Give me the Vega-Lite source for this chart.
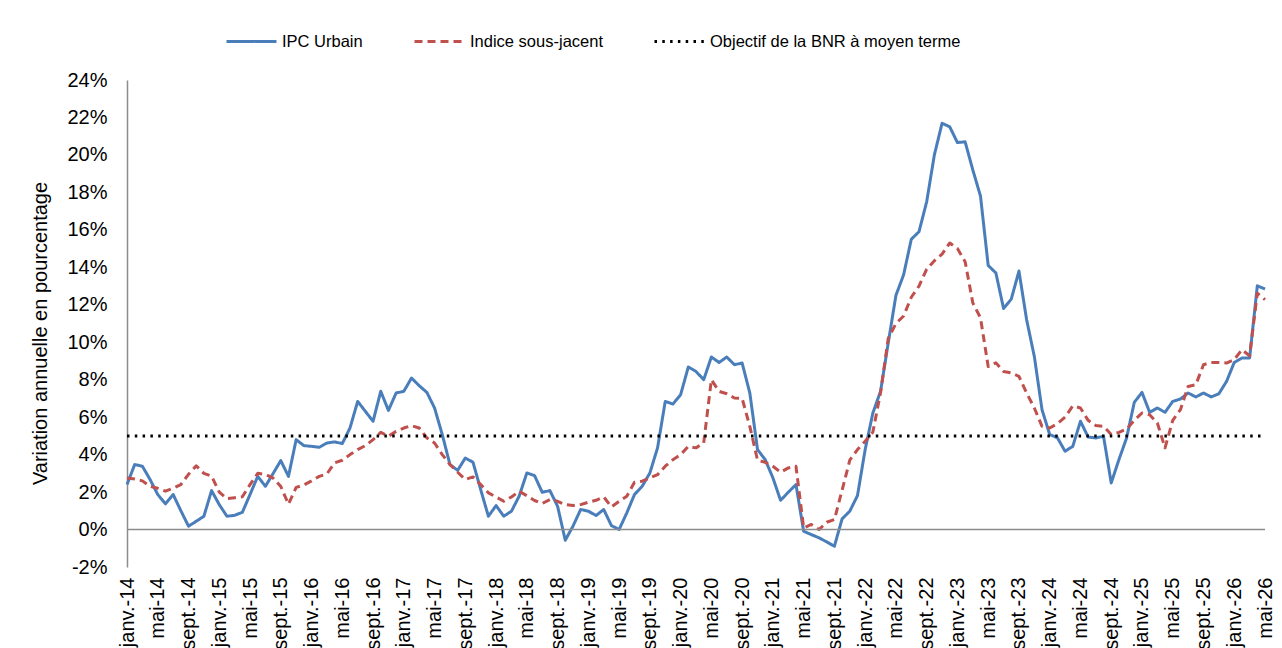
{
  "$schema": "https://vega.github.io/schema/vega-lite/v6.json",
  "width": 1138,
  "height": 487,
  "autosize": {"type": "none"},
  "padding": {"left": 127, "top": 80, "right": 17, "bottom": 81},
  "background": "white",
  "config": {
    "font": "Liberation Sans",
    "view": {"stroke": null},
    "axis": {"labelColor": "#000000", "titleColor": "#000000", "grid": false, "labelOverlap": false},
    "axisY": {"labelOverlap": false},
    "axisQuantitative": {"labelOverlap": false}
  },
  "data": {"values": [
    {"m":"janv.-14","ipc":2.4,"sj":2.75,"obj":5},
    {"m":"févr.-14","ipc":3.47,"sj":2.7,"obj":5},
    {"m":"mars-14","ipc":3.38,"sj":2.6,"obj":5},
    {"m":"avr.-14","ipc":2.67,"sj":2.3,"obj":5},
    {"m":"mai-14","ipc":1.87,"sj":2.2,"obj":5},
    {"m":"juin-14","ipc":1.37,"sj":2.05,"obj":5},
    {"m":"juil.-14","ipc":1.87,"sj":2.2,"obj":5},
    {"m":"août-14","ipc":1.01,"sj":2.4,"obj":5},
    {"m":"sept.-14","ipc":0.18,"sj":2.95,"obj":5},
    {"m":"oct.-14","ipc":0.44,"sj":3.4,"obj":5},
    {"m":"nov.-14","ipc":0.71,"sj":3.0,"obj":5},
    {"m":"déc.-14","ipc":2.08,"sj":2.85,"obj":5},
    {"m":"janv.-15","ipc":1.33,"sj":2.0,"obj":5},
    {"m":"févr.-15","ipc":0.71,"sj":1.65,"obj":5},
    {"m":"mars-15","ipc":0.76,"sj":1.7,"obj":5},
    {"m":"avr.-15","ipc":0.92,"sj":1.75,"obj":5},
    {"m":"mai-15","ipc":1.87,"sj":2.4,"obj":5},
    {"m":"juin-15","ipc":2.84,"sj":3.0,"obj":5},
    {"m":"juil.-15","ipc":2.31,"sj":2.95,"obj":5},
    {"m":"août-15","ipc":2.99,"sj":2.75,"obj":5},
    {"m":"sept.-15","ipc":3.68,"sj":2.3,"obj":5},
    {"m":"oct.-15","ipc":2.84,"sj":1.35,"obj":5},
    {"m":"nov.-15","ipc":4.8,"sj":2.25,"obj":5},
    {"m":"déc.-15","ipc":4.48,"sj":2.38,"obj":5},
    {"m":"janv.-16","ipc":4.44,"sj":2.6,"obj":5},
    {"m":"févr.-16","ipc":4.39,"sj":2.84,"obj":5},
    {"m":"mars-16","ipc":4.62,"sj":2.97,"obj":5},
    {"m":"avr.-16","ipc":4.68,"sj":3.56,"obj":5},
    {"m":"mai-16","ipc":4.59,"sj":3.7,"obj":5},
    {"m":"juin-16","ipc":5.42,"sj":4.0,"obj":5},
    {"m":"juil.-16","ipc":6.84,"sj":4.27,"obj":5},
    {"m":"août-16","ipc":6.31,"sj":4.48,"obj":5},
    {"m":"sept.-16","ipc":5.78,"sj":4.8,"obj":5},
    {"m":"oct.-16","ipc":7.38,"sj":5.19,"obj":5},
    {"m":"nov.-16","ipc":6.36,"sj":4.98,"obj":5},
    {"m":"déc.-16","ipc":7.29,"sj":5.24,"obj":5},
    {"m":"janv.-17","ipc":7.38,"sj":5.42,"obj":5},
    {"m":"févr.-17","ipc":8.09,"sj":5.55,"obj":5},
    {"m":"mars-17","ipc":7.68,"sj":5.42,"obj":5},
    {"m":"avr.-17","ipc":7.32,"sj":4.89,"obj":5},
    {"m":"mai-17","ipc":6.49,"sj":4.62,"obj":5},
    {"m":"juin-17","ipc":5.07,"sj":4.0,"obj":5},
    {"m":"juil.-17","ipc":3.47,"sj":3.47,"obj":5},
    {"m":"août-17","ipc":3.16,"sj":3.06,"obj":5},
    {"m":"sept.-17","ipc":3.82,"sj":2.67,"obj":5},
    {"m":"oct.-17","ipc":3.59,"sj":2.81,"obj":5},
    {"m":"nov.-17","ipc":2.13,"sj":2.4,"obj":5},
    {"m":"déc.-17","ipc":0.71,"sj":1.96,"obj":5},
    {"m":"janv.-18","ipc":1.28,"sj":1.74,"obj":5},
    {"m":"févr.-18","ipc":0.71,"sj":1.51,"obj":5},
    {"m":"mars-18","ipc":0.98,"sj":1.74,"obj":5},
    {"m":"avr.-18","ipc":1.78,"sj":2.04,"obj":5},
    {"m":"mai-18","ipc":3.02,"sj":1.81,"obj":5},
    {"m":"juin-18","ipc":2.88,"sj":1.55,"obj":5},
    {"m":"juil.-18","ipc":1.99,"sj":1.39,"obj":5},
    {"m":"août-18","ipc":2.08,"sj":1.6,"obj":5},
    {"m":"sept.-18","ipc":1.24,"sj":1.51,"obj":5},
    {"m":"oct.-18","ipc":-0.57,"sj":1.33,"obj":5},
    {"m":"nov.-18","ipc":0.18,"sj":1.28,"obj":5},
    {"m":"déc.-18","ipc":1.07,"sj":1.33,"obj":5},
    {"m":"janv.-19","ipc":0.98,"sj":1.46,"obj":5},
    {"m":"févr.-19","ipc":0.75,"sj":1.56,"obj":5},
    {"m":"mars-19","ipc":1.07,"sj":1.74,"obj":5},
    {"m":"avr.-19","ipc":0.21,"sj":1.21,"obj":5},
    {"m":"mai-19","ipc":0.0,"sj":1.51,"obj":5},
    {"m":"juin-19","ipc":0.89,"sj":1.78,"obj":5},
    {"m":"juil.-19","ipc":1.87,"sj":2.52,"obj":5},
    {"m":"août-19","ipc":2.31,"sj":2.58,"obj":5},
    {"m":"sept.-19","ipc":3.02,"sj":2.76,"obj":5},
    {"m":"oct.-19","ipc":4.36,"sj":2.93,"obj":5},
    {"m":"nov.-19","ipc":6.84,"sj":3.38,"obj":5},
    {"m":"déc.-19","ipc":6.7,"sj":3.73,"obj":5},
    {"m":"janv.-20","ipc":7.2,"sj":4.0,"obj":5},
    {"m":"févr.-20","ipc":8.68,"sj":4.44,"obj":5},
    {"m":"mars-20","ipc":8.44,"sj":4.36,"obj":5},
    {"m":"avr.-20","ipc":8.0,"sj":4.62,"obj":5},
    {"m":"mai-20","ipc":9.21,"sj":8.0,"obj":5},
    {"m":"juin-20","ipc":8.92,"sj":7.38,"obj":5},
    {"m":"juil.-20","ipc":9.21,"sj":7.25,"obj":5},
    {"m":"août-20","ipc":8.8,"sj":7.02,"obj":5},
    {"m":"sept.-20","ipc":8.89,"sj":7.0,"obj":5},
    {"m":"oct.-20","ipc":7.29,"sj":5.51,"obj":5},
    {"m":"nov.-20","ipc":4.27,"sj":3.7,"obj":5},
    {"m":"déc.-20","ipc":3.73,"sj":3.59,"obj":5},
    {"m":"janv.-21","ipc":2.76,"sj":3.38,"obj":5},
    {"m":"févr.-21","ipc":1.56,"sj":3.06,"obj":5},
    {"m":"mars-21","ipc":1.99,"sj":3.29,"obj":5},
    {"m":"avr.-21","ipc":2.4,"sj":3.38,"obj":5},
    {"m":"mai-21","ipc":-0.09,"sj":0.09,"obj":5},
    {"m":"juin-21","ipc":-0.27,"sj":0.27,"obj":5},
    {"m":"juil.-21","ipc":-0.44,"sj":0.0,"obj":5},
    {"m":"août-21","ipc":-0.66,"sj":0.39,"obj":5},
    {"m":"sept.-21","ipc":-0.89,"sj":0.53,"obj":5},
    {"m":"oct.-21","ipc":0.57,"sj":2.1,"obj":5},
    {"m":"nov.-21","ipc":0.98,"sj":3.7,"obj":5},
    {"m":"déc.-21","ipc":1.81,"sj":4.27,"obj":5},
    {"m":"janv.-22","ipc":4.27,"sj":4.71,"obj":5},
    {"m":"févr.-22","ipc":6.22,"sj":5.2,"obj":5},
    {"m":"mars-22","ipc":7.38,"sj":7.3,"obj":5},
    {"m":"avr.-22","ipc":9.96,"sj":10.2,"obj":5},
    {"m":"mai-22","ipc":12.5,"sj":11.0,"obj":5},
    {"m":"juin-22","ipc":13.6,"sj":11.4,"obj":5},
    {"m":"juil.-22","ipc":15.5,"sj":12.4,"obj":5},
    {"m":"août-22","ipc":15.9,"sj":13.0,"obj":5},
    {"m":"sept.-22","ipc":17.5,"sj":13.9,"obj":5},
    {"m":"oct.-22","ipc":20.0,"sj":14.35,"obj":5},
    {"m":"nov.-22","ipc":21.69,"sj":14.7,"obj":5},
    {"m":"déc.-22","ipc":21.5,"sj":15.3,"obj":5},
    {"m":"janv.-23","ipc":20.66,"sj":15.0,"obj":5},
    {"m":"févr.-23","ipc":20.7,"sj":14.3,"obj":5},
    {"m":"mars-23","ipc":19.2,"sj":12.1,"obj":5},
    {"m":"avr.-23","ipc":17.8,"sj":11.3,"obj":5},
    {"m":"mai-23","ipc":14.1,"sj":8.7,"obj":5},
    {"m":"juin-23","ipc":13.7,"sj":8.9,"obj":5},
    {"m":"juil.-23","ipc":11.8,"sj":8.44,"obj":5},
    {"m":"août-23","ipc":12.3,"sj":8.36,"obj":5},
    {"m":"sept.-23","ipc":13.8,"sj":8.18,"obj":5},
    {"m":"oct.-23","ipc":11.2,"sj":7.29,"obj":5},
    {"m":"nov.-23","ipc":9.24,"sj":6.49,"obj":5},
    {"m":"déc.-23","ipc":6.4,"sj":5.51,"obj":5},
    {"m":"janv.-24","ipc":5.07,"sj":5.42,"obj":5},
    {"m":"févr.-24","ipc":4.9,"sj":5.65,"obj":5},
    {"m":"mars-24","ipc":4.18,"sj":6.0,"obj":5},
    {"m":"avr.-24","ipc":4.44,"sj":6.6,"obj":5},
    {"m":"mai-24","ipc":5.78,"sj":6.49,"obj":5},
    {"m":"juin-24","ipc":4.94,"sj":5.83,"obj":5},
    {"m":"juil.-24","ipc":4.89,"sj":5.55,"obj":5},
    {"m":"août-24","ipc":4.98,"sj":5.51,"obj":5},
    {"m":"sept.-24","ipc":2.49,"sj":5.07,"obj":5},
    {"m":"oct.-24","ipc":3.73,"sj":5.19,"obj":5},
    {"m":"nov.-24","ipc":4.89,"sj":5.37,"obj":5},
    {"m":"déc.-24","ipc":6.79,"sj":5.83,"obj":5},
    {"m":"janv.-25","ipc":7.32,"sj":6.22,"obj":5},
    {"m":"févr.-25","ipc":6.26,"sj":6.13,"obj":5},
    {"m":"mars-25","ipc":6.49,"sj":5.69,"obj":5},
    {"m":"avr.-25","ipc":6.26,"sj":4.36,"obj":5},
    {"m":"mai-25","ipc":6.84,"sj":5.83,"obj":5},
    {"m":"juin-25","ipc":6.97,"sj":6.4,"obj":5},
    {"m":"juil.-25","ipc":7.29,"sj":7.64,"obj":5},
    {"m":"août-25","ipc":7.08,"sj":7.73,"obj":5},
    {"m":"sept.-25","ipc":7.29,"sj":8.8,"obj":5},
    {"m":"oct.-25","ipc":7.08,"sj":8.92,"obj":5},
    {"m":"nov.-25","ipc":7.25,"sj":8.92,"obj":5},
    {"m":"déc.-25","ipc":7.91,"sj":8.89,"obj":5},
    {"m":"janv.-26","ipc":8.92,"sj":9.07,"obj":5},
    {"m":"févr.-26","ipc":9.16,"sj":9.6,"obj":5},
    {"m":"mars-26","ipc":9.16,"sj":9.28,"obj":5},
    {"m":"avr.-26","ipc":13.01,"sj":12.62,"obj":5},
    {"m":"mai-26","ipc":12.84,"sj":12.27,"obj":5}
  ]},
  "transform": [{"fold": ["ipc", "sj", "obj"], "as": ["serie", "val"]}],
  "encoding": {
    "y": {
      "field": "val", "type": "quantitative",
      "title": "Variation annuelle en pourcentage",
      "scale": {"domain": [-2, 24], "nice": false, "zero": false},
      "axis": {
        "values": [-2,0,2,4,6,8,10,12,14,16,18,20,22,24],
        "tickCount": 14,
        "labelExpr": "datum.value + '%'",
        "labelOverlap": false,
        "labelSeparation": 0,
        "ticks": false, "domainColor": "#8c8c8c", "domainWidth": 1.5,
        "labelFontSize": 20, "labelPadding": 20,
        "titleFontSize": 20, "titleFontWeight": "normal", "titlePadding": 16,
        "titleY": 253
      }
    }
  },
  "layer": [
    {
      "mark": {"type": "line", "strokeWidth": 3, "strokeJoin": "round"},
      "encoding": {
        "x": {
          "field": "m", "type": "nominal", "sort": null,
          "scale": {"type": "point", "padding": 0},
          "axis": {
            "values": ["janv.-14","mai-14","sept.-14","janv.-15","mai-15","sept.-15","janv.-16","mai-16","sept.-16","janv.-17","mai-17","sept.-17","janv.-18","mai-18","sept.-18","janv.-19","mai-19","sept.-19","janv.-20","mai-20","sept.-20","janv.-21","mai-21","sept.-21","janv.-22","mai-22","sept.-22","janv.-23","mai-23","sept.-23","janv.-24","mai-24","sept.-24","janv.-25","mai-25","sept.-25","janv.-26","mai-26"],
            "labelAngle": -90, "ticks": false, "domain": false,
            "labelFontSize": 20, "labelPadding": 10, "title": null,
            "labelOverlap": false
          }
        },
        "color": {
          "field": "serie", "type": "nominal",
          "scale": {"domain": ["ipc", "sj", "obj"], "range": ["#4A7EBB", "#C0504D", "#000000"]},
          "legend": {
            "orient": "none", "legendX": 98, "legendY": -65, "direction": "horizontal",
            "title": null, "padding": 0, "labelFontSize": 16.5, "symbolType": "stroke",
            "symbolSize": 2500, "symbolStrokeWidth": 3, "columnPadding": 45, "labelOffset": 4,
            "labelColor": "#000000", "labelLimit": 500,
            "labelExpr": "datum.label == 'ipc' ? 'IPC Urbain' : datum.label == 'sj' ? 'Indice sous-jacent' : 'Objectif de la BNR à moyen terme'"
          }
        },
        "strokeDash": {
          "field": "serie", "type": "nominal",
          "scale": {"domain": ["ipc", "sj", "obj"], "range": [[1, 0], [8, 5], [2.5, 5.3]]},
          "legend": {
            "orient": "none", "legendX": 98, "legendY": -65, "direction": "horizontal",
            "title": null, "padding": 0, "labelFontSize": 16.5, "symbolType": "stroke",
            "symbolSize": 2500, "symbolStrokeWidth": 3, "columnPadding": 45, "labelOffset": 4,
            "labelColor": "#000000", "labelLimit": 500,
            "labelExpr": "datum.label == 'ipc' ? 'IPC Urbain' : datum.label == 'sj' ? 'Indice sous-jacent' : 'Objectif de la BNR à moyen terme'"
          }
        }
      }
    },
    {
      "transform": [{"filter": "datum.serie == 'obj' && datum.m == 'janv.-14'"}],
      "mark": {"type": "rule", "color": "#8c8c8c", "strokeWidth": 1.5},
      "encoding": {
        "y": {"datum": 0, "type": "quantitative"}
      }
    }
  ]
}
